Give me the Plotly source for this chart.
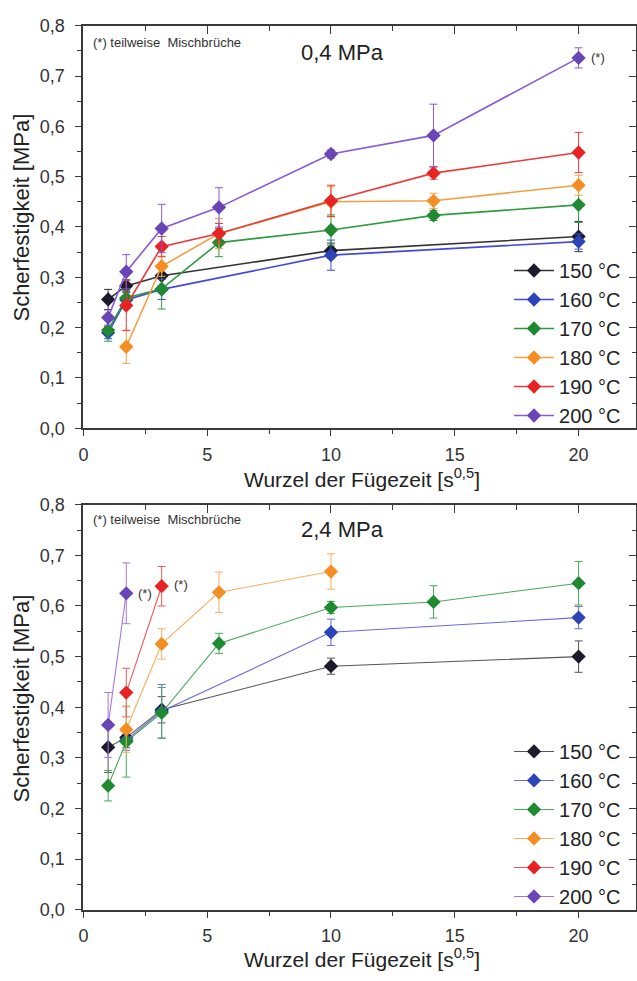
import plotly.graph_objects as go

W, H = 637, 981
FONT = "Arial, Liberation Sans, sans-serif"

# ---------------- data ----------------
labels = ["150 °C", "160 °C", "170 °C", "180 °C", "190 °C", "200 °C"]
marker_colors = ["#1d1b2b", "#2b45b8", "#1f8a30", "#f58d22", "#e82323", "#6a45b8"]
line_colors_top = ["#333333", "#4747d8", "#2e9a40", "#f5a040", "#ea3a3a", "#8a58d8"]
line_colors_bot = ["#555555", "#6a6ae0", "#4aa85a", "#f7b060", "#ee5a5a", "#a07ae0"]

# 0,4 MPa
top_x = [
    [1, 1.732, 3.162, 10, 20],
    [1, 1.732, 3.162, 10, 20],
    [1, 1.732, 3.162, 5.477, 10, 14.142, 20],
    [1.732, 3.162, 5.477, 10, 14.142, 20],
    [1.732, 3.162, 5.477, 10, 14.142, 20],
    [1, 1.732, 3.162, 5.477, 10, 14.142, 20],
]
top_y = [
    [0.256, 0.283, 0.303, 0.353, 0.381],
    [0.190, 0.255, 0.276, 0.344, 0.371],
    [0.195, 0.259, 0.277, 0.369, 0.394, 0.423, 0.444],
    [0.162, 0.322, 0.387, 0.450, 0.452, 0.483],
    [0.244, 0.361, 0.387, 0.452, 0.507, 0.548],
    [0.220, 0.311, 0.397, 0.439, 0.545, 0.582, 0.736],
]
top_err = [
    [0.020, 0.012, 0.020, 0.015, 0.030],
    [0.012, 0.015, 0.020, 0.030, 0.015],
    [0.022, 0.015, 0.040, 0.028, 0.030, 0.010, 0.035],
    [0.033, 0.020, 0.030, 0.030, 0.015, 0.020],
    [0.050, 0.020, 0.020, 0.031, 0.012, 0.040],
    [0.015, 0.034, 0.048, 0.039, 0.008, 0.062, 0.020],
]

# 2,4 MPa
bot_x = [
    [1, 1.732, 3.162, 10, 20],
    [1.732, 3.162, 10, 20],
    [1, 1.732, 3.162, 5.477, 10, 14.142, 20],
    [1.732, 3.162, 5.477, 10],
    [1.732, 3.162],
    [1, 1.732],
]
bot_y = [
    [0.321, 0.340, 0.395, 0.481, 0.500],
    [0.335, 0.392, 0.548, 0.577],
    [0.245, 0.332, 0.389, 0.526, 0.597, 0.608, 0.645],
    [0.356, 0.525, 0.627, 0.668],
    [0.429, 0.639],
    [0.365, 0.625],
]
bot_err = [
    [0.050, 0.020, 0.026, 0.016, 0.031],
    [0.020, 0.053, 0.026, 0.022],
    [0.030, 0.070, 0.050, 0.020, 0.012, 0.032, 0.043],
    [0.045, 0.030, 0.040, 0.035],
    [0.048, 0.039],
    [0.064, 0.060],
]

x_ticks = [0, 5, 10, 15, 20]
y_ticks = [0.0, 0.1, 0.2, 0.3, 0.4, 0.5, 0.6, 0.7, 0.8]
x_range = [0, 22.32]
y_range = [0, 0.8]

# ---------------- layout helpers ----------------
def px(x):
    return x / W

def py(y):
    return 1 - y / H

X0, X1 = 79, 636
TOP = (16, 427)
BOT = (505, 918.5)

fig = go.Figure()

for i, lab in enumerate(labels):
    fig.add_trace(go.Scatter(
        x=top_x[i], y=top_y[i], name=lab, mode="lines+markers",
        xaxis="x", yaxis="y", legend="legend",
        line=dict(color=line_colors_top[i], width=1.6),
        marker=dict(symbol="diamond", size=11, color=marker_colors[i]),
        error_y=dict(type="data", array=top_err[i], visible=True,
                     color=line_colors_top[i], thickness=1, width=4),
    ))
for i, lab in enumerate(labels):
    fig.add_trace(go.Scatter(
        x=bot_x[i], y=bot_y[i], name=lab, mode="lines+markers",
        xaxis="x2", yaxis="y2", legend="legend2",
        line=dict(color=line_colors_bot[i], width=1.1),
        marker=dict(symbol="diamond", size=11, color=marker_colors[i]),
        error_y=dict(type="data", array=bot_err[i], visible=True,
                     color=line_colors_bot[i], thickness=1, width=4),
    ))

AX = "#3a3a3a"
tickfont = dict(family=FONT, size=18, color="#333333")

def xaxis_main(domain_y_anchor):
    return dict(domain=[px(X0), px(X1)], anchor=domain_y_anchor, range=x_range,
                tickvals=x_ticks, ticks="outside", ticklen=6, tickwidth=1.2,
                tickcolor=AX, showline=True, linecolor=AX, linewidth=1.8,
                showgrid=False, zeroline=False, tickfont=tickfont,
                ticklabelstandoff=3,
                minor=dict(tickvals=[2.5, 7.5, 12.5, 17.5], ticks="outside",
                           ticklen=4, tickcolor=AX, tickwidth=1.2))

def yaxis_main(dom, anchor):
    return dict(domain=dom, anchor=anchor, range=y_range, tickvals=y_ticks,
                tickformat=".1f", ticks="outside", ticklen=6, tickwidth=1.2,
                tickcolor=AX, showline=True, linecolor=AX, linewidth=1.8,
                showgrid=False, zeroline=False, tickfont=tickfont,
                ticklabelstandoff=7,
                minor=dict(tickvals=[0.05, 0.15, 0.25, 0.35, 0.45, 0.55, 0.65, 0.75],
                           ticks="outside", ticklen=4, tickcolor=AX, tickwidth=1.2))

def xaxis_mirror(over, anchor):
    return dict(overlaying=over, anchor=anchor, side="top", range=x_range,
                tickvals=x_ticks, ticks="inside", ticklen=8, tickwidth=1.2,
                tickcolor=AX, showline=True, linecolor=AX, linewidth=1.8,
                showticklabels=False, showgrid=False, zeroline=False,
                minor=dict(tickvals=[2.5, 7.5, 12.5, 17.5], ticks="inside",
                           ticklen=5, tickcolor=AX, tickwidth=1.2))

def yaxis_mirror(over, anchor):
    return dict(overlaying=over, anchor=anchor, side="right", range=y_range,
                tickvals=y_ticks, ticks="inside", ticklen=7, tickwidth=1.2,
                tickcolor=AX, showline=True, linecolor=AX, linewidth=1.8,
                showticklabels=False, showgrid=False, zeroline=False,
                minor=dict(tickvals=[0.05, 0.15, 0.25, 0.35, 0.45, 0.55, 0.65, 0.75],
                           ticks="inside", ticklen=4, tickcolor=AX, tickwidth=1.2))

top_dom = [py(TOP[1]), py(TOP[0])]
bot_dom = [py(BOT[1]), py(BOT[0])]

legend_common = dict(
    xanchor="left", yanchor="top", bgcolor="rgba(255,255,255,0)",
    font=dict(family=FONT, size=20, color="#222222"),
    itemwidth=40, tracegroupgap=0, borderwidth=0,
)

fig.update_layout(
    width=W, height=H, autosize=False,
    margin=dict(l=0, r=0, t=0, b=0),
    paper_bgcolor="white", plot_bgcolor="rgba(0,0,0,0)",
    separators=", ",
    font=dict(family=FONT, color="#222222"),
    xaxis=xaxis_main("y"),
    yaxis=yaxis_main(top_dom, "x"),
    xaxis2=xaxis_main("y2"),
    yaxis2=yaxis_main(bot_dom, "x2"),
    xaxis3=xaxis_mirror("x", "y"),
    yaxis3=yaxis_mirror("y", "x"),
    xaxis4=xaxis_mirror("x2", "y2"),
    yaxis4=yaxis_mirror("y2", "x2"),
    legend=dict(x=px(508), y=py(246), **legend_common),
    legend2=dict(x=px(508), y=py(737), **legend_common),
    showlegend=True,
)

# invisible helper traces so the mirror axes are drawn
fig.add_trace(go.Scatter(x=[None], y=[None], xaxis="x3", yaxis="y3", showlegend=False, hoverinfo="skip"))
fig.add_trace(go.Scatter(x=[None], y=[None], xaxis="x4", yaxis="y4", showlegend=False, hoverinfo="skip"))

ann = []
small = dict(family=FONT, size=13, color="#333333")
big = dict(family=FONT, size=22, color="#222222")
for (y_title, y_xt, y_note, y_cond, cond) in [
    (212, 478, 33, 43, "0,4 MPa"),
    (703, 968, 520, 530, "2,4 MPa"),
]:
    ann.append(dict(x=px(17), y=py(y_title), xref="paper", yref="paper",
                    xanchor="center", yanchor="middle",
                    text="Scherfestigkeit [MPa]", textangle=-90, showarrow=False,
                    font=dict(family=FONT, size=22, color="#222222")))
    ann.append(dict(x=px(360), y=py(y_xt), xref="paper", yref="paper",
                    xanchor="center", yanchor="middle",
                    text="Wurzel der Fügezeit [s<sup>0,5</sup>]", showarrow=False,
                    font=dict(family=FONT, size=21, color="#222222")))
    ann.append(dict(x=px(87), y=py(y_note), xref="paper", yref="paper",
                    xanchor="left", yanchor="middle", text="(*) teilweise  Mischbrüche",
                    showarrow=False, font=small))
    ann.append(dict(x=px(340), y=py(y_cond), xref="paper", yref="paper",
                    xanchor="center", yanchor="middle",
                    text=cond, showarrow=False, font=big))

# (*) markers next to points with partial mixed fractures
ann.append(dict(x=top_x[5][-1], y=top_y[5][-1], xref="x", yref="y", text="(*)",
                xanchor="center", yanchor="middle",
                showarrow=False, xshift=19, font=small))
ann.append(dict(x=bot_x[5][-1], y=bot_y[5][-1], xref="x2", yref="y2", text="(*)",
                xanchor="center", yanchor="middle",
                showarrow=False, xshift=19, font=small))
ann.append(dict(x=bot_x[4][-1], y=bot_y[4][-1], xref="x2", yref="y2", text="(*)",
                xanchor="center", yanchor="middle",
                showarrow=False, xshift=19, yshift=2, font=small))

fig.update_layout(annotations=ann)

fig.write_html("out.html")
